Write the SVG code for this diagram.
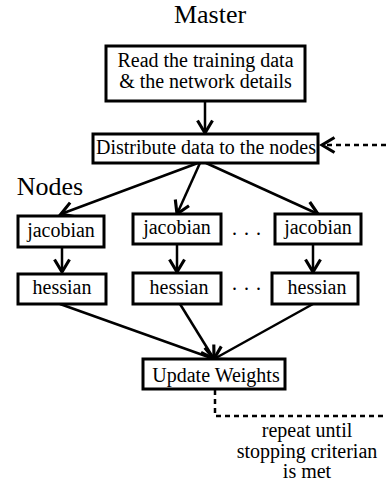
<svg xmlns="http://www.w3.org/2000/svg" width="386" height="485" viewBox="0 0 386 485">
<style>
text{font-family:"Liberation Serif","Times New Roman",serif;fill:#000;text-anchor:middle}
.box{fill:#fff;stroke:#000;stroke-width:3}
.ln{fill:none;stroke:#000;stroke-width:2.5}
.dash{fill:none;stroke:#000;stroke-width:2.5;stroke-dasharray:5 4}
.t{font-size:20px}
.h{font-size:26px}
.dots{font-size:20px;text-anchor:start;letter-spacing:1px}
</style>
<defs>
<marker id="ah" markerUnits="userSpaceOnUse" markerWidth="20" markerHeight="20" viewBox="-12 -8 14 16" refX="0" refY="0" orient="auto">
<path d="M-10,-6 L0,0 L-10,6" fill="none" stroke="#000" stroke-width="2.5"/>
</marker>
</defs>
<text class="h" x="210" y="23">Master</text>
<text class="h" x="50" y="195">Nodes</text>
<g id="connectors">
<line class="ln" x1="205" y1="101" x2="205" y2="133" marker-end="url(#ah)"/>
<line class="ln" x1="198" y1="163" x2="61" y2="214" marker-end="url(#ah)"/>
<line class="ln" x1="200" y1="163" x2="177" y2="214" marker-end="url(#ah)"/>
<line class="ln" x1="206" y1="163" x2="318" y2="214" marker-end="url(#ah)"/>
<line class="ln" x1="62" y1="247" x2="62" y2="272" marker-end="url(#ah)"/>
<line class="ln" x1="177" y1="244" x2="177" y2="272" marker-end="url(#ah)"/>
<line class="ln" x1="313" y1="244" x2="313" y2="272" marker-end="url(#ah)"/>
<line class="ln" x1="60" y1="304" x2="214" y2="359" marker-end="url(#ah)"/>
<line class="ln" x1="180" y1="304" x2="214" y2="359" marker-end="url(#ah)"/>
<line class="ln" x1="313" y1="304" x2="214" y2="359" marker-end="url(#ah)"/>
<polyline class="dash" points="215,390 215,416 386,416"/>
<line class="dash" x1="386" y1="145" x2="322" y2="145" marker-end="url(#ah)"/>
</g>
<g id="read"><rect class="box" x="106" y="46" width="199" height="55"/>
<text class="t" x="205.5" y="67">Read the training data</text>
<text class="t" x="205.5" y="88">&amp; the network details</text></g>
<g id="distribute"><rect class="box" x="93" y="134" width="225" height="29"/>
<text class="t" x="206" y="154">Distribute data to the nodes</text></g>
<g id="jacobian1"><rect class="box" x="18" y="216" width="86" height="31"/>
<text class="t" x="61" y="237">jacobian</text></g>
<g id="jacobian2"><rect class="box" x="133" y="214" width="88" height="30"/>
<text class="t" x="177" y="234">jacobian</text></g>
<g id="jacobian3"><rect class="box" x="275" y="214" width="86" height="30"/>
<text class="t" x="318" y="234">jacobian</text></g>
<text class="dots" x="232" y="235">. . .</text>
<g id="hessian1"><rect class="box" x="18" y="274" width="88" height="30"/>
<text class="t" x="62" y="294">hessian</text></g>
<g id="hessian2"><rect class="box" x="133" y="273" width="88" height="31"/>
<text class="t" x="179" y="294">hessian</text></g>
<g id="hessian3"><rect class="box" x="272" y="273" width="86" height="31"/>
<text class="t" x="317" y="294">hessian</text></g>
<text class="dots" x="232" y="290">. . .</text>
<g id="update"><rect class="box" x="143" y="359" width="142" height="30"/>
<text class="t" x="216" y="382">Update Weights</text></g>
<g id="note">
<text class="t" x="307" y="437">repeat until</text>
<text class="t" x="307" y="458">stopping criterian</text>
<text class="t" x="307" y="478">is met</text>
</g>
</svg>
